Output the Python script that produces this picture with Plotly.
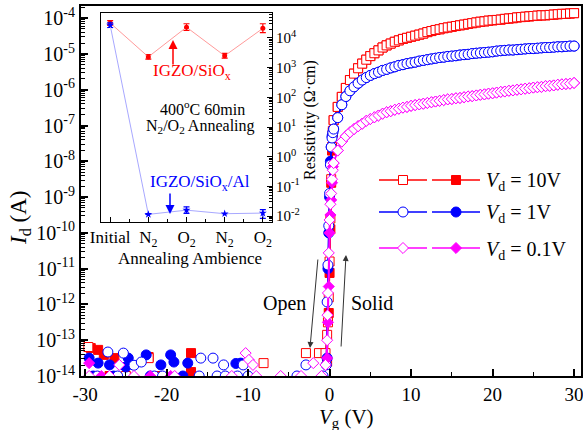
import plotly.graph_objects as go

W, H = 583, 430
FONT = "Liberation Serif"
RED, BLUE, MAG = "#ff0000", "#0000ff", "#ff00ff"


def px(x):
    return x / W


def py(y):
    return 1 - y / H


# ---------------- main data (log10 of Id in A) ----------------
on_vg = [0.5, 1.0, 1.5, 2.0, 2.5, 3.0, 3.5, 4.0, 4.5, 5.0, 5.5, 6.0, 6.5, 7.0, 7.5,
         8.0, 8.5, 9.0, 9.5, 10.0, 10.5, 11.0, 11.5, 12.0, 12.5, 13.0, 13.5, 14.0, 14.5, 15.0,
         15.5, 16.0, 16.5, 17.0, 17.5, 18.0, 18.5, 19.0, 19.5, 20.0, 20.5, 21.0, 21.5, 22.0, 22.5,
         23.0, 23.5, 24.0, 24.5, 25.0, 25.5, 26.0, 26.5, 27.0, 27.5, 28.0, 28.5, 29.0, 29.5, 30.0]

red_on_log = [-6.85, -6.48, -6.20, -5.95, -5.73, -5.55, -5.40, -5.27, -5.16, -5.06, -4.98, -4.90, -4.82, -4.76, -4.71,
              -4.66, -4.62, -4.58, -4.55, -4.52, -4.49, -4.46, -4.43, -4.39, -4.36, -4.33, -4.31, -4.28, -4.26, -4.24,
              -4.22, -4.20, -4.18, -4.16, -4.14, -4.12, -4.10, -4.09, -4.07, -4.06, -4.05, -4.04, -4.02, -4.01, -4.00,
              -3.98, -3.97, -3.96, -3.95, -3.94, -3.93, -3.92, -3.92, -3.91, -3.90, -3.89, -3.88, -3.88, -3.87, -3.86]

blue_on_log = [-7.10, -6.78, -6.42, -6.19, -6.03, -5.92, -5.82, -5.73, -5.66, -5.60, -5.55, -5.51, -5.46, -5.43, -5.39,
               -5.36, -5.32, -5.30, -5.27, -5.25, -5.23, -5.20, -5.18, -5.16, -5.14, -5.12, -5.10, -5.09, -5.07, -5.06,
               -5.05, -5.03, -5.02, -5.01, -4.99, -4.98, -4.97, -4.96, -4.95, -4.94, -4.92, -4.91, -4.90, -4.89, -4.89,
               -4.88, -4.87, -4.86, -4.85, -4.85, -4.84, -4.83, -4.82, -4.82, -4.81, -4.80, -4.80, -4.79, -4.78, -4.78]

mag_on_log = [-8.05, -7.70, -7.45, -7.30, -7.19, -7.10, -7.02, -6.95, -6.87, -6.82, -6.77, -6.72, -6.67, -6.63, -6.60,
              -6.56, -6.53, -6.50, -6.48, -6.45, -6.43, -6.41, -6.39, -6.37, -6.35, -6.33, -6.31, -6.29, -6.27, -6.26,
              -6.24, -6.23, -6.21, -6.19, -6.18, -6.16, -6.14, -6.13, -6.11, -6.10, -6.08, -6.06, -6.05, -6.03, -6.02,
              -6.00, -5.99, -5.97, -5.96, -5.94, -5.93, -5.92, -5.90, -5.89, -5.88, -5.86, -5.85, -5.84, -5.83, -5.81]

# steep (turn-on) part, open = one sweep, solid = other sweep
red_open_steep_v = [-0.5, -0.3, -0.2, -0.1, 0.0, 0.1, 0.2, 0.3, 0.4]
red_open_steep_log = [-13.36, -12.85, -12.50, -11.80, -10.80, -9.60, -8.50, -7.60, -7.15]
red_solid_steep_v = [-0.3, -0.1, 0.0, 0.1, 0.2, 0.3, 0.4]
red_solid_steep_log = [-13.60, -12.24, -11.12, -9.90, -8.60, -7.70, -7.20]

blue_open_steep_v = [-0.4, -0.3, -0.2, -0.1, 0.0, 0.1, 0.2, 0.3, 0.4]
blue_open_steep_log = [-13.69, -11.93, -10.90, -9.80, -8.90, -8.10, -7.60, -7.35, -7.20]
blue_solid_steep_v = [-0.3, -0.2, -0.1, 0.0, 0.1, 0.2, 0.3, 0.4]
blue_solid_steep_log = [-13.50, -11.00, -10.00, -9.00, -8.00, -7.60, -7.30, -7.20]

mag_open_steep_v = [-0.5, -0.3, -0.25, -0.2, -0.1, 0.0, 0.1, 0.2, 0.3, 0.4]
mag_open_steep_log = [-13.69, -13.00, -12.30, -11.68, -10.56, -9.64, -9.20, -8.90, -8.50, -8.25]
mag_solid_steep_v = [-0.3, -0.2, -0.1, 0.0, 0.1, 0.2, 0.3, 0.4]
mag_solid_steep_log = [-13.50, -12.50, -11.50, -10.00, -9.50, -9.08, -8.60, -8.15]

# off-state noise (only points above the 1e-14 floor are visible)
red_open_noise_v = [-29.6, -22.2, -8.1, -2.9, -1.3, -28.8, -25.0]
red_open_noise_log = [-13.19, -13.50, -13.64, -13.36, -13.36, -14.0, -14.0]
red_solid_noise_v = [-29.3, -28.4, -27.7, -26.4, -22.2, -17.0, -17.0, -27.0, -21.0]
red_solid_noise_log = [-13.22, -13.27, -13.41, -13.50, -13.47, -13.36, -13.89, -14.0, -14.0]

blue_solid_noise_v = [-29.5, -28.4, -27.0, -25.0, -24.7, -22.5, -20.7, -19.5, -19.1, -17.4, -11.5, -10.9,
                      -29.0, -26.5, -22.0, -18.0]
blue_solid_noise_log = [-13.50, -13.64, -13.69, -13.75, -13.50, -13.41, -13.69, -13.41, -13.61, -13.64, -13.65, -13.64,
                        -14.0, -14.0, -14.0, -14.0]
blue_open_noise_v = [-27.2, -25.3, -24.0, -23.1, -15.8, -14.3, -13.0, -10.6, -2.9,
                     -28.5, -26.0, -21.5, -20.5, -16.0, -13.8, -12.8, -11.3, -10.0, -4.0, -0.8]
blue_open_noise_log = [-13.33, -13.36, -13.70, -13.61, -13.50, -13.50, -13.69, -13.69, -13.69,
                       -14.0, -14.0, -14.0, -14.0, -14.0, -14.0, -14.0, -14.0, -14.0, -14.0, -14.0]

mag_open_noise_v = [-25.8, -10.3, -9.9, -9.4, -2.0, -0.5, -29.5, -27.0, -24.0, -19.0, -12.0, -9.0, -6.0, -3.5, -1.0]
mag_open_noise_log = [-13.69, -13.36, -13.55, -13.69, -13.64, -13.69,
                      -14.0, -14.0, -14.0, -14.0, -14.0, -14.0, -14.0, -14.0, -14.0]
mag_solid_noise_v = [-29.5, -28.0, -22.0, -19.5]
mag_solid_noise_log = [-13.64, -14.0, -14.0, -14.0]

# ---------------- inset data ----------------
inset_cats = ["Initial", "N<sub>2</sub>", "O<sub>2</sub>", "N<sub>2</sub>", "O<sub>2</sub>"]
inset_x = [0, 1, 2, 3, 4]
res_sio = [3.2e4, 2.3e3, 2.3e4, 2.5e3, 2.1e4]
res_sio_err_plus = [0.65e4, 0.45e3, 0.7e4, 0.5e3, 0.9e4]
res_sio_err_minus = [0.55e4, 0.38e3, 0.52e4, 0.42e3, 0.6e4]
res_al = [2.7e4, 0.0114, 0.0158, 0.0120, 0.0126]
res_al_err_plus = [0.5e4, 0.0, 0.0045, 0.0, 0.0040]
res_al_err_minus = [0.45e4, 0.0, 0.0035, 0.0, 0.0043]

x_ticks = [-30, -20, -10, 0, 10, 20, 30]
x_ticktext = ["-30", "-20", "-10", "0", "10", "20", "30"]
legend_labels = ["<i>V</i><sub>d</sub> = 10V", "<i>V</i><sub>d</sub> = 1V", "<i>V</i><sub>d</sub> = 0.1V"]


def tolin(a):
    return [10 ** v for v in a]


fig = go.Figure()

series = [
    (RED, "square", 9, red_open_noise_v, red_open_noise_log, red_solid_noise_v, red_solid_noise_log,
     red_open_steep_v, red_open_steep_log, red_solid_steep_v, red_solid_steep_log, red_on_log),
    (BLUE, "circle", 10, blue_open_noise_v, blue_open_noise_log, blue_solid_noise_v, blue_solid_noise_log,
     blue_open_steep_v, blue_open_steep_log, blue_solid_steep_v, blue_solid_steep_log, blue_on_log),
    (MAG, "diamond", 8.5, mag_open_noise_v, mag_open_noise_log, mag_solid_noise_v, mag_solid_noise_log,
     mag_open_steep_v, mag_open_steep_log, mag_solid_steep_v, mag_solid_steep_log, mag_on_log),
]

# noise markers
for col, sym, sz, onv, onl, snv, snl, *_ in series:
    fig.add_trace(go.Scatter(x=snv, y=tolin(snl), mode="markers", xaxis="x", yaxis="y",
                             marker=dict(symbol=sym, size=sz, color=col, line=dict(color=col, width=1))))
    fig.add_trace(go.Scatter(x=onv, y=tolin(onl), mode="markers", xaxis="x", yaxis="y",
                             marker=dict(symbol=sym, size=sz, color="white", line=dict(color=col, width=1))))

# transfer curves
for col, sym, sz, onv, onl, snv, snl, osv, osl, ssv, ssl, onlog in series:
    fig.add_trace(go.Scatter(x=ssv + on_vg, y=tolin(ssl + onlog), mode="lines+markers", xaxis="x", yaxis="y",
                             line=dict(color=col, width=1.5),
                             marker=dict(symbol=sym, size=sz, color=col, line=dict(color=col, width=1))))
    fig.add_trace(go.Scatter(x=osv + on_vg, y=tolin(osl + onlog), mode="lines+markers", xaxis="x", yaxis="y",
                             line=dict(color=col, width=1.5),
                             marker=dict(symbol=sym, size=sz, color="white", line=dict(color=col, width=1))))

# inset traces
fig.add_trace(go.Scatter(x=inset_x, y=res_sio, mode="lines+markers", xaxis="x2", yaxis="y2",
                         line=dict(color="#ff9a9a", width=1),
                         marker=dict(symbol="circle", size=5, color=RED),
                         error_y=dict(type="data", array=res_sio_err_plus, arrayminus=res_sio_err_minus,
                                      color=RED, thickness=1.2, width=3)))
fig.add_trace(go.Scatter(x=inset_x, y=res_al, mode="lines+markers", xaxis="x2", yaxis="y2",
                         line=dict(color="#a8a8ff", width=1),
                         marker=dict(symbol="star", size=6, color=BLUE),
                         error_y=dict(type="data", array=res_al_err_plus, arrayminus=res_al_err_minus,
                                      color=BLUE, thickness=1.2, width=3)))

# legend drawn on a pixel-coordinate overlay axis
leg_rows = [180, 212, 248]
for (col, sym, sz, *_), yy, lab in zip(series, leg_rows, legend_labels):
    for (x0, xm, x1, fill) in [(379, 403, 427, "white"), (432, 456, 480, col)]:
        fig.add_trace(go.Scatter(x=[x0, x1], y=[yy, yy], mode="lines", xaxis="x3", yaxis="y3",
                                 line=dict(color=col, width=1.5)))
        fig.add_trace(go.Scatter(x=[xm], y=[yy], mode="markers", xaxis="x3", yaxis="y3",
                                 marker=dict(symbol=sym, size=sz, color=fill, line=dict(color=col, width=1))))

# ---------------- axes ----------------
main_exps = list(range(-14, -3))
inset_exps = list(range(-2, 5))
minor_main = [k * 10.0 ** e for e in range(-15, -3) for k in range(2, 10)]
minor_inset = [k * 10.0 ** e for e in range(-3, 5) for k in range(2, 10)]

X0, X1, Y0, Y1 = 81, 581, 6, 376
IX0, IX1, IY0, IY1 = 101, 272, 13, 222

fig.update_layout(
    width=W, height=H, margin=dict(l=0, r=0, t=0, b=0),
    paper_bgcolor="white", plot_bgcolor="rgba(0,0,0,0)", showlegend=False,
    font=dict(family=FONT, color="black", size=20),
    xaxis=dict(domain=[px(X0), px(X1)], range=[-30.5, 30.85], anchor="y",
               showline=True, linewidth=2, linecolor="black", mirror=True,
               ticks="inside", ticklen=7, tickwidth=1.5, tickcolor="black",
               tickvals=x_ticks, ticktext=x_ticktext, ticklabeloverflow="allow",
               minor=dict(ticks="inside", ticklen=4, tickwidth=1, tickcolor="black", dtick=5),
               showgrid=False, zeroline=False, tickfont=dict(size=19, family=FONT), automargin=False),
    yaxis=dict(domain=[py(Y1), py(Y0)], type="log", range=[-14.0, -3.66], anchor="x",
               showline=True, linewidth=2, linecolor="black", mirror=True,
               ticks="inside", ticklen=7, tickwidth=1.5, tickcolor="black",
               tickvals=[10.0 ** e for e in main_exps],
               ticktext=["10<sup>%d</sup>" % e for e in main_exps], ticklabeloverflow="allow",
               minor=dict(ticks="inside", ticklen=4, tickwidth=1, tickcolor="black", tickvals=minor_main),
               showgrid=False, zeroline=False, tickfont=dict(size=20, family=FONT), automargin=False),
    xaxis2=dict(domain=[px(IX0), px(IX1)], range=[-0.24, 4.24], anchor="y2",
                showline=True, linewidth=1, linecolor="black", mirror=True,
                ticks="inside", ticklen=5, tickwidth=1, tickcolor="black",
                tickvals=inset_x, ticktext=inset_cats,
                minor=dict(ticks="inside", ticklen=3, tickwidth=1, tickcolor="black", dtick=0.5, tick0=0),
                showgrid=False, zeroline=False, tickfont=dict(size=17, family=FONT), automargin=False),
    yaxis2=dict(domain=[py(IY1), py(IY0)], type="log", range=[-2.2, 4.84], anchor="x2", side="right",
                showline=True, linewidth=1, linecolor="black", mirror=True,
                ticks="inside", ticklen=5, tickwidth=1, tickcolor="black",
                tickvals=[10.0 ** e for e in inset_exps],
                ticktext=["10<sup>%d</sup>" % e for e in inset_exps],
                minor=dict(ticks="inside", ticklen=3, tickwidth=1, tickcolor="black", tickvals=minor_inset),
                showgrid=False, zeroline=False, tickfont=dict(size=15, family=FONT), automargin=False),
    xaxis3=dict(domain=[0, 1], range=[0, W], visible=False, anchor="y3", fixedrange=True),
    yaxis3=dict(domain=[0, 1], range=[H, 0], visible=False, anchor="x3", fixedrange=True),
)

ann = []


def text(x, y, t, size=20, color="black", angle=0, xanchor="center"):
    ann.append(dict(x=px(x), y=py(y), xref="paper", yref="paper", text=t, showarrow=False,
                    textangle=angle, xanchor=xanchor, yanchor="middle",
                    font=dict(family=FONT, size=size, color=color)))


def arrow(tx, ty, hx, hy, color="black", width=1):
    ann.append(dict(x=px(hx), y=py(hy), xref="paper", yref="paper", ax=tx - hx, ay=ty - hy,
                    text="", showarrow=True, arrowhead=2, arrowsize=1.2, arrowwidth=width,
                    arrowcolor=color))


# axis titles
text(20, 218, "<i>I</i><sub>d</sub> (A)", size=23, angle=-90)
text(346, 418, "<i>V</i><sub>g</sub> (V)", size=21)
text(190, 258, "Annealing Ambience", size=17)
text(310, 120, "Resistivity (\u03a9\u00b7cm)", size=16, angle=-90)

# inset annotations
text(192, 72, "IGZO/SiO<sub>x</sub>", size=17, color=RED)
arrow(173, 66, 173, 40, color=RED, width=1.5)
text(202, 108, "400<sup>o</sup>C 60min", size=16)
text(200, 127, "N<sub>2</sub>/O<sub>2</sub> Annealing", size=16)
text(200, 183, "IGZO/SiO<sub>x</sub>/Al", size=17, color=BLUE)
arrow(170, 192, 170, 214, color=BLUE, width=1.5)

# sweep direction
text(284, 303, "Open", size=20)
text(372, 303, "Solid", size=20)
arrow(318, 258, 310, 348, color="#333333", width=1)
arrow(341, 348, 346, 255, color="#333333", width=1)

# legend text
for yy, lab in zip(leg_rows, legend_labels):
    text(484, yy + 2, lab, size=20, xanchor="left")

fig.update_layout(annotations=ann)
fig.write_html("out.html")
